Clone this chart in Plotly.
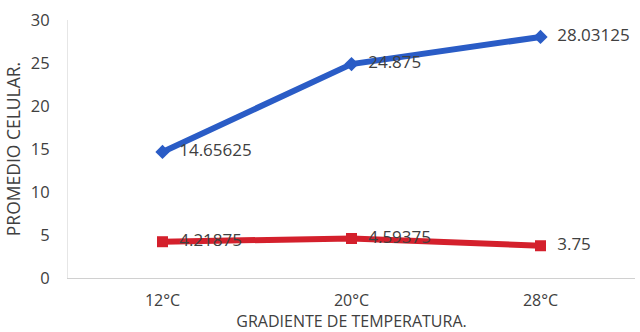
import plotly.graph_objects as go

categorias = ["12°C", "20°C", "28°C"]
serie_azul = [14.65625, 24.875, 28.03125]
serie_roja = [4.21875, 4.59375, 3.75]

FONT = "Open Sans, Liberation Sans, sans-serif"
TXT = "#404040"


def etiquetas(valores):
    # leading spaces push the value labels a little off the markers
    return ["  " + str(v) for v in valores]


fig = go.Figure()
fig.add_trace(go.Scatter(
    x=categorias, y=serie_azul, mode="lines+markers+text",
    line=dict(color="#2a5cc6", width=6),
    marker=dict(symbol="diamond", size=11, color="#2a5cc6"),
    text=etiquetas(serie_azul), textposition="middle right",
    textfont=dict(family=FONT, size=17, color=TXT),
))
fig.add_trace(go.Scatter(
    x=categorias, y=serie_roja, mode="lines+markers+text",
    line=dict(color="#d4202c", width=6),
    marker=dict(symbol="square", size=11, color="#d4202c"),
    text=etiquetas(serie_roja), textposition="middle right",
    textfont=dict(family=FONT, size=17, color=TXT),
))

fig.update_layout(
    width=640, height=332,
    margin=dict(l=68, r=5, t=20, b=54),
    paper_bgcolor="white", plot_bgcolor="white",
    showlegend=False,
    font=dict(family=FONT, size=16, color=TXT),
    xaxis=dict(
        type="category", range=[-0.5, 2.5],
        showgrid=False, showline=True, linecolor="#d0d0d0", linewidth=1,
        ticks="", ticklabelstandoff=8,
        tickfont=dict(size=16, color=TXT),
        title=dict(text="GRADIENTE DE TEMPERATURA.", font=dict(size=16, color=TXT), standoff=6),
    ),
    yaxis=dict(
        range=[0, 30], dtick=5, showgrid=False, zeroline=False,
        showline=True, linecolor="#e6e6e6", linewidth=1,
        ticks="", ticklabelstandoff=14,
        tickfont=dict(size=16.5, color=TXT),
        title=dict(text="PROMEDIO CELULAR.", font=dict(size=17.5, color=TXT), standoff=5),
    ),
)

fig.write_html("out.html")
